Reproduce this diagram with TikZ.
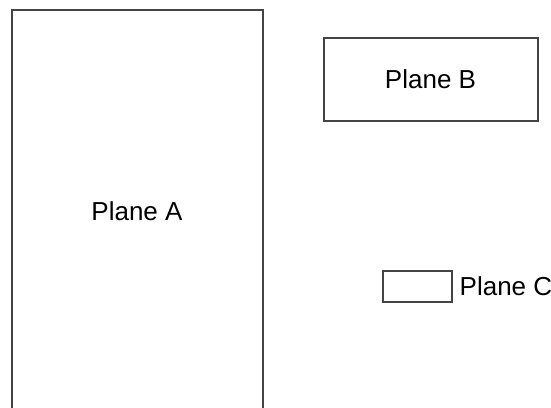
\documentclass[tikz,border=0pt]{standalone}
\usepackage{fontspec}
\setmainfont{Liberation Sans}
\definecolor{edge}{HTML}{444444}
\begin{document}
\begin{tikzpicture}[x=1pt,y=-1pt,
  plane/.style={draw=edge,line width=2pt,fill=white,inner sep=0pt,anchor=north west},
  lbl/.style={font=\fontsize{26}{30}\selectfont,text=black,inner sep=0pt}]
\useasboundingbox (0,0) rectangle (551,407);
\clip (0,0) rectangle (551,407);
\node[plane,minimum width=251pt,minimum height=404pt] (A) at (10.5,8.5) {};
\node[lbl] (Alabel) at (A.center) {Plane A};
\node[plane,minimum width=214pt,minimum height=83pt] (B) at (322.5,36.5) {};
\node[lbl] (Blabel) at (B.center) {Plane B};
\node[plane,minimum width=69pt,minimum height=31pt] (C) at (381.5,269.5) {};
\node[lbl,anchor=west] (Clabel) at ([xshift=7pt]C.east) {Plane C};
\end{tikzpicture}
\end{document}
